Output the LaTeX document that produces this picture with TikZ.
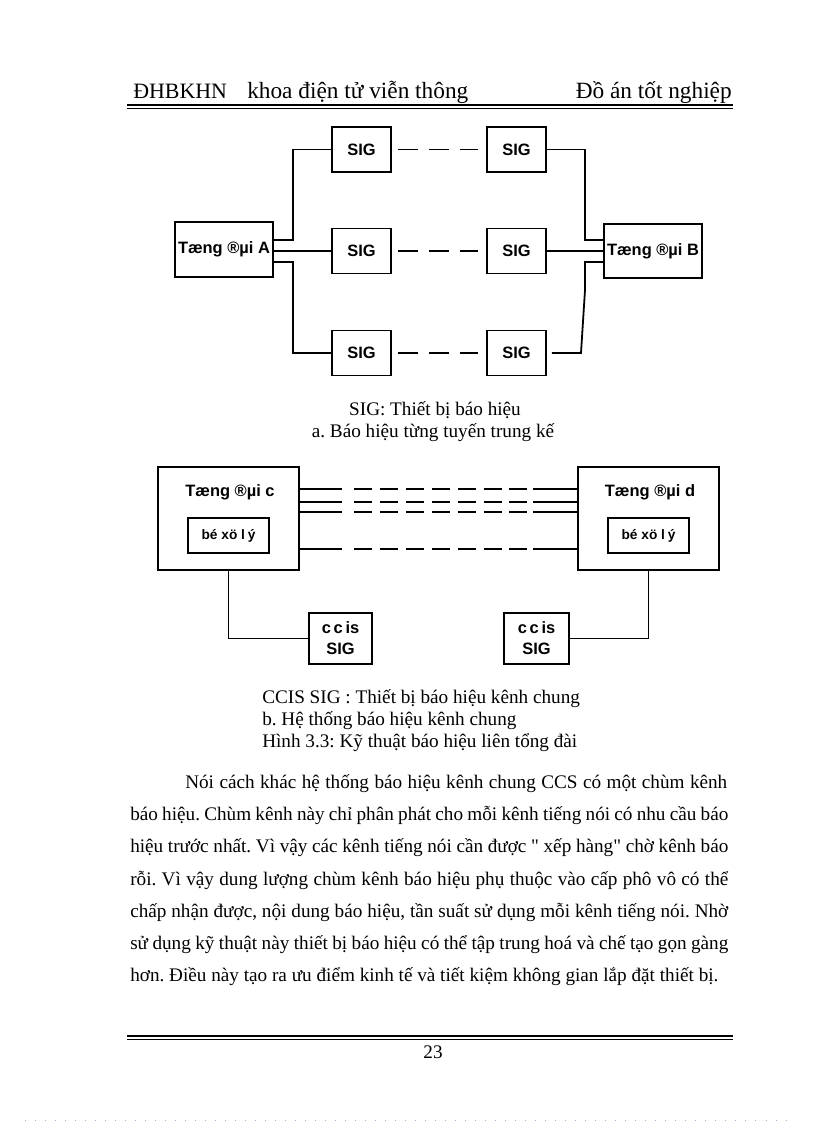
\documentclass[tikz,border=0pt]{standalone}
\usepackage{fontspec}
\setmainfont{Liberation Serif}[Ligatures=TeXOff]
\newfontfamily\sigfont{Liberation Sans}
\newcommand\pxl{0.7295pt}
\definecolor{pagedot}{RGB}{175,165,225}
\frenchspacing
\tikzset{
  blk/.style={draw,line width=1.3pt,inner sep=0pt,
    font=\sigfont\bfseries\fontsize{12}{15.3}\selectfont},
  tag/.style={inner sep=0pt,font=\sigfont\bfseries\fontsize{12}{15.3}\selectfont},
  sigbox/.style={blk,minimum width=59*\pxl,minimum height=45*\pxl},
  exch/.style={blk,minimum width=98*\pxl,minimum height=55*\pxl},
  bigexch/.style={blk,minimum width=141*\pxl,minimum height=103*\pxl},
  cpu/.style={blk,minimum width=81*\pxl,minimum height=35*\pxl,
    font=\sigfont\bfseries\fontsize{10}{12}\selectfont},
  ccis/.style={blk,minimum width=63*\pxl,minimum height=51*\pxl,align=center},
  wire/.style={line width=1.3pt},
  sigdash/.style={wire,dash pattern=on 14.6pt off 8pt},
  trunk/.style={wire,dash pattern=on 13.1pt off 5.8pt},
  txt/.style={inner sep=0pt,anchor=base,font=\fontsize{14}{16}\selectfont},
  head/.style={inner sep=0pt,font=\fontsize{17}{20}\selectfont}
}
\begin{document}
\begin{tikzpicture}[x=\pxl,y=-\pxl]
\useasboundingbox (0,0) rectangle (816,1123);

\node[head,anchor=base west,font=\fontsize{16}{20}\selectfont] (hdl) at (133,98) {ĐHBKHN};
\node[head,anchor=base west] (hdm) at (247,98) {khoa điện tử viễn thông};
\node[head,anchor=base east] (hdr) at (732,98) {Đồ án tốt nghiệp};
\draw[line width=1pt] (127,105) -- (733,105);
\draw[line width=.5pt] (127,108) -- (733,108);

\node[exch] (A) at (224,249.5) {Tæng ®µi A};
\node[exch,minimum height=54*\pxl] (B) at (653,251) {Tæng ®µi B};
\node[sigbox] (s1) at (361.5,149.5) {SIG};
\node[sigbox] (s2) at (361.5,251) {SIG};
\node[sigbox] (s3) at (361.5,353) {SIG};
\node[sigbox] (r1) at (516.5,149.5) {SIG};
\node[sigbox] (r2) at (516.5,251) {SIG};
\node[sigbox] (r3) at (516.5,353) {SIG};
\draw[sigdash] ([xshift=6*\pxl]s1.east) -- ([xshift=-8*\pxl]r1.west);
\draw[sigdash] ([xshift=6*\pxl]s2.east) -- ([xshift=-8*\pxl]r2.west);
\draw[sigdash] ([xshift=6*\pxl]s3.east) -- ([xshift=-8*\pxl]r3.west);
\coordinate (a1) at (293,240);
\coordinate (a3) at (293,262);
\coordinate (b1) at (585,240);
\coordinate (b3) at (585,262);
\coordinate (bk) at (585,290);
\coordinate (b4) at (581,353);
\draw[wire] (A.east |- a1) -- (a1) |- (s1.west);
\draw[wire] (A.east |- s2) -- (s2.west);
\draw[wire] (A.east |- a3) -- (a3) |- (s3.west);
\draw[wire] (r1.east) -| (b1) -- (B.west |- b1);
\draw[wire] (r2.east) -- (B.west |- r2);
\draw[wire] (B.west |- b3) -- (b3) -- (bk) -- (b4) -- ([xshift=5*\pxl]r3.east);

\node[txt] (capa1) at (435,415) {SIG: Thiết bị báo hiệu};
\node[txt] (capa2) at (433,437) {a. Báo hiệu từng tuyến trung kế};

\node[bigexch] (C) at (228.5,518.5) {};
\node[tag] (Cl) at (230,492) {Tæng ®µi c};
\node[cpu] (pc) at (228.5,535.5) {bé xö l\hspace{2pt}ý};
\node[bigexch] (D) at (648.5,518.5) {};
\node[tag] (Dl) at (650,492) {Tæng ®µi d};
\node[cpu] (pd) at (648.5,535.5) {bé xö l\hspace{2pt}ý};
\node[ccis] (cc) at (340.5,638.5) {c\hspace{2pt}c\hspace{2pt}is\\SIG};
\node[ccis,minimum width=65*\pxl] (cd) at (536.5,638.5) {c\hspace{2pt}c\hspace{2pt}is\\SIG};
\foreach \k/\y in {1/489,2/502,3/512,4/549}{
  \coordinate (t\k) at (342,\y);
  \coordinate (u\k) at (533,\y);
  \draw[wire] (C.east |- t\k) -- (t\k);
  \draw[trunk] ([xshift=12*\pxl]t\k) -- ([xshift=-5*\pxl]u\k);
  \draw[wire] (u\k) -- (D.west |- u\k);
}
\draw[wire] (C.south) |- (cc.west);
\draw[wire] (D.south) |- (cd.east);

\node[txt,anchor=base west] (capb1) at (262,703) {CCIS SIG : Thiết bị báo hiệu kênh chung};
\node[txt,anchor=base west] (capb2) at (262,725) {b. Hệ thống báo hiệu kênh chung};
\node[txt,anchor=base west] (capb3) at (262,747) {Hình 3.3: Kỹ thuật báo hiệu liên tổng đài};

\node[txt,anchor=base west] (p1) at (185,788) {\hbox to 395.4pt{Nói cách khác hệ thống báo hiệu kênh chung CCS có một chùm kênh}};
\node[txt,anchor=base west] (p2) at (130,820) {\hbox to 436.3pt{báo hiệu. Chùm kênh này chỉ phân phát cho mỗi kênh tiếng nói có nhu cầu báo}};
\node[txt,anchor=base west] (p3) at (130,852) {\hbox to 436.3pt{hiệu trước nhất. Vì vậy các kênh tiếng nói cần được " xếp hàng" chờ kênh báo}};
\node[txt,anchor=base west] (p4) at (130,885) {\hbox to 436.3pt{rỗi. Vì vậy dung lượng chùm kênh báo hiệu phụ thuộc vào cấp phô vô có thể}};
\node[txt,anchor=base west] (p5) at (130,917) {\hbox to 436.3pt{chấp nhận được, nội dung báo hiệu, tần suất sử dụng mỗi kênh tiếng nói. Nhờ}};
\node[txt,anchor=base west] (p6) at (130,949) {\hbox to 436.3pt{sử dụng kỹ thuật này thiết bị báo hiệu có thể tập trung hoá và chế tạo gọn gàng}};
\node[txt,anchor=base west] (p7) at (130,981) {hơn. Điều này tạo ra ưu điểm kinh tế và tiết kiệm không gian lắp đặt thiết bị.};

\draw[line width=1pt] (127,1036) -- (733,1036);
\draw[line width=.5pt] (127,1039) -- (733,1039);
\node[txt] (pg) at (433,1058) {23};
\draw[pagedot,line width=.6pt,dash pattern=on .6pt off 6.7pt] (25,1120) -- (795,1120);
\end{tikzpicture}
\end{document}
